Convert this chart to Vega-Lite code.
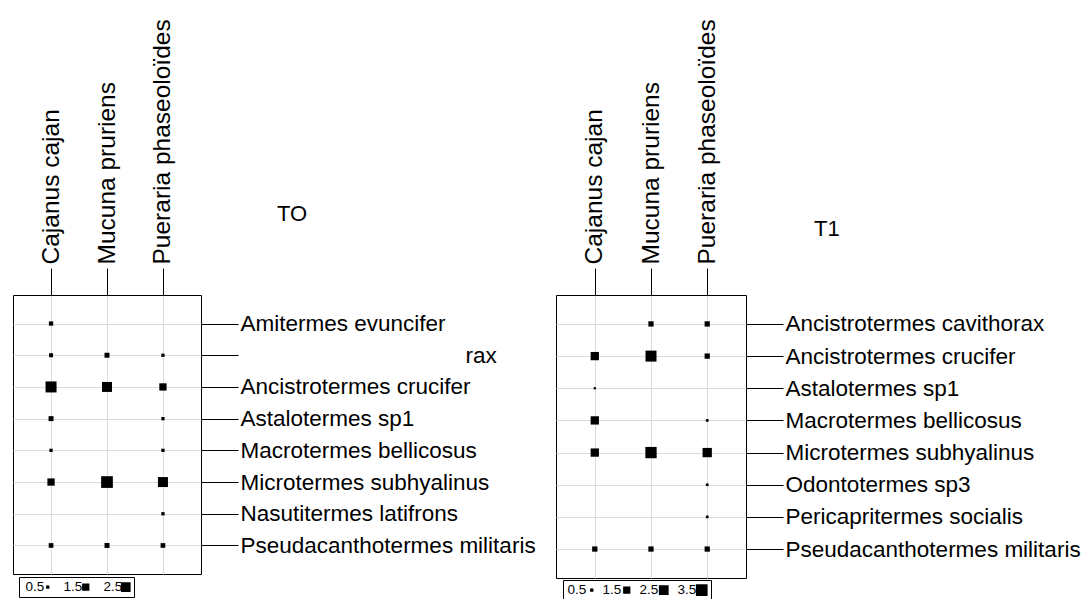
{
  "$schema": "https://vega.github.io/schema/vega-lite/v6.json",
  "background": "white",
  "padding": {"left": 12, "top": 18, "right": 0, "bottom": 0},
  "spacing": 19,
  "config": {
    "font": "Liberation Sans",
    "view": {"stroke": "black", "strokeWidth": 1},
    "axis": {"labelFont": "Liberation Sans", "labelColor": "black", "tickColor": "black", "tickWidth": 1, "domain": false, "grid": true, "gridColor": "#dcdcdc", "gridWidth": 1, "labelLimit": 0, "title": null},
    "title": {"font": "Liberation Sans", "fontWeight": "normal", "fontSize": 22, "color": "black", "anchor": "start", "frame": "group", "offset": 0, "baseline": "middle"},
    "legend": {"labelFont": "Liberation Sans", "labelColor": "black"}
  },
  "datasets": {
    "t0": [
      {"species": "Amitermes evuncifer", "plant": "Cajanus cajan", "value": 0.68},
      {"species": "Ancistrotermes cavithorax", "plant": "Cajanus cajan", "value": 0.62},
      {"species": "Ancistrotermes cavithorax", "plant": "Mucuna pruriens", "value": 0.83},
      {"species": "Ancistrotermes cavithorax", "plant": "Pueraria phaseoloïdes", "value": 0.5},
      {"species": "Ancistrotermes crucifer", "plant": "Cajanus cajan", "value": 3.12},
      {"species": "Ancistrotermes crucifer", "plant": "Mucuna pruriens", "value": 2.62},
      {"species": "Ancistrotermes crucifer", "plant": "Pueraria phaseoloïdes", "value": 1.5},
      {"species": "Astalotermes sp1", "plant": "Cajanus cajan", "value": 0.83},
      {"species": "Astalotermes sp1", "plant": "Pueraria phaseoloïdes", "value": 0.5},
      {"species": "Macrotermes bellicosus", "plant": "Cajanus cajan", "value": 0.5},
      {"species": "Macrotermes bellicosus", "plant": "Pueraria phaseoloïdes", "value": 0.5},
      {"species": "Microtermes subhyalinus", "plant": "Cajanus cajan", "value": 1.5},
      {"species": "Microtermes subhyalinus", "plant": "Mucuna pruriens", "value": 3.5},
      {"species": "Microtermes subhyalinus", "plant": "Pueraria phaseoloïdes", "value": 2.62},
      {"species": "Nasutitermes latifrons", "plant": "Pueraria phaseoloïdes", "value": 0.5},
      {"species": "Pseudacanthotermes militaris", "plant": "Cajanus cajan", "value": 0.76},
      {"species": "Pseudacanthotermes militaris", "plant": "Mucuna pruriens", "value": 0.83},
      {"species": "Pseudacanthotermes militaris", "plant": "Pueraria phaseoloïdes", "value": 0.76}
    ],
    "t1": [
      {"species": "Ancistrotermes cavithorax", "plant": "Mucuna pruriens", "value": 0.9},
      {"species": "Ancistrotermes cavithorax", "plant": "Pueraria phaseoloïdes", "value": 0.9},
      {"species": "Ancistrotermes crucifer", "plant": "Cajanus cajan", "value": 1.88},
      {"species": "Ancistrotermes crucifer", "plant": "Mucuna pruriens", "value": 3.12},
      {"species": "Ancistrotermes crucifer", "plant": "Pueraria phaseoloïdes", "value": 0.9},
      {"species": "Astalotermes sp1", "plant": "Cajanus cajan", "value": 0.36},
      {"species": "Macrotermes bellicosus", "plant": "Cajanus cajan", "value": 1.88},
      {"species": "Macrotermes bellicosus", "plant": "Pueraria phaseoloïdes", "value": 0.41},
      {"species": "Microtermes subhyalinus", "plant": "Cajanus cajan", "value": 1.88},
      {"species": "Microtermes subhyalinus", "plant": "Mucuna pruriens", "value": 3.28},
      {"species": "Microtermes subhyalinus", "plant": "Pueraria phaseoloïdes", "value": 2.3},
      {"species": "Odontotermes sp3", "plant": "Pueraria phaseoloïdes", "value": 0.41},
      {"species": "Pericapritermes socialis", "plant": "Pueraria phaseoloïdes", "value": 0.41},
      {"species": "Pseudacanthotermes militaris", "plant": "Cajanus cajan", "value": 0.9},
      {"species": "Pseudacanthotermes militaris", "plant": "Mucuna pruriens", "value": 0.9},
      {"species": "Pseudacanthotermes militaris", "plant": "Pueraria phaseoloïdes", "value": 0.9}
    ]
  },
  "hconcat": [
    {
      "width": 188,
      "height": 279,
      "data": {"name": "t0"},
      "title": {"text": "TO", "dx": 264, "dy": 211},
      "mark": {"type": "square", "color": "black", "opacity": 1, "filled": true},
      "encoding": {
        "x": {"field": "plant", "type": "nominal", "sort": ["Cajanus cajan", "Mucuna pruriens", "Pueraria phaseoloïdes"], "scale": {"type": "point", "padding": 0.68},
          "axis": {"orient": "top", "labelAngle": -90, "tickSize": 27, "labelPadding": 4, "labelFontSize": 24.5}},
        "y": {"field": "species", "type": "nominal", "sort": ["Amitermes evuncifer", "Ancistrotermes cavithorax", "Ancistrotermes crucifer", "Astalotermes sp1", "Macrotermes bellicosus", "Microtermes subhyalinus", "Nasutitermes latifrons", "Pseudacanthotermes militaris"], "scale": {"type": "point", "padding": 0.9},
          "axis": {"orient": "right", "tickSize": 37, "labelPadding": 2, "labelFontSize": 22.5, "labelExpr": "datum.value == 'Ancistrotermes cavithorax' ? '\u200b' + pad('rax', 39, '\u00a0', 'left') : datum.label"}},
        "size": {"field": "value", "type": "quantitative", "scale": {"domain": [0.238, 4], "range": [0, 158], "zero": false},
          "legend": {"title": null, "orient": "none", "legendX": 6, "legendY": 282, "direction": "horizontal", "values": [0.5, 1.5, 2.5], "format": ".1f", "symbolType": "square", "symbolFillColor": "black", "symbolStrokeWidth": 0, "symbolOpacity": 1, "labelFontSize": 13.5, "labelAlign": "left", "labelOffset": -29, "symbolOffset": 19, "strokeColor": "black", "padding": 3, "columnPadding": 10}}
      }
    },
    {
      "width": 190,
      "height": 283,
      "data": {"name": "t1"},
      "title": {"text": "T1", "dx": 258, "dy": 226},
      "mark": {"type": "square", "color": "black", "opacity": 1, "filled": true},
      "encoding": {
        "x": {"field": "plant", "type": "nominal", "sort": ["Cajanus cajan", "Mucuna pruriens", "Pueraria phaseoloïdes"], "scale": {"type": "point", "padding": 0.69},
          "axis": {"orient": "top", "labelAngle": -90, "tickSize": 27, "labelPadding": 4, "labelFontSize": 24.5}},
        "y": {"field": "species", "type": "nominal", "sort": ["Ancistrotermes cavithorax", "Ancistrotermes crucifer", "Astalotermes sp1", "Macrotermes bellicosus", "Microtermes subhyalinus", "Odontotermes sp3", "Pericapritermes socialis", "Pseudacanthotermes militaris"], "scale": {"type": "point", "padding": 0.9},
          "axis": {"orient": "right", "tickSize": 37, "labelPadding": 2, "labelFontSize": 22.5}},
        "size": {"field": "value", "type": "quantitative", "scale": {"domain": [0.238, 4], "range": [0, 158], "zero": false},
          "legend": {"title": null, "orient": "none", "legendX": 7, "legendY": 285, "direction": "horizontal", "values": [0.5, 1.5, 2.5, 3.5], "format": ".1f", "symbolType": "square", "symbolFillColor": "black", "symbolStrokeWidth": 0, "symbolOpacity": 1, "labelFontSize": 13.5, "labelAlign": "left", "labelOffset": -31, "symbolOffset": 19, "strokeColor": "black", "padding": 3, "columnPadding": 7}}
      }
    }
  ],
  "resolve": {"scale": {"x": "independent", "y": "independent", "size": "independent"}, "legend": {"size": "independent"}}
}
